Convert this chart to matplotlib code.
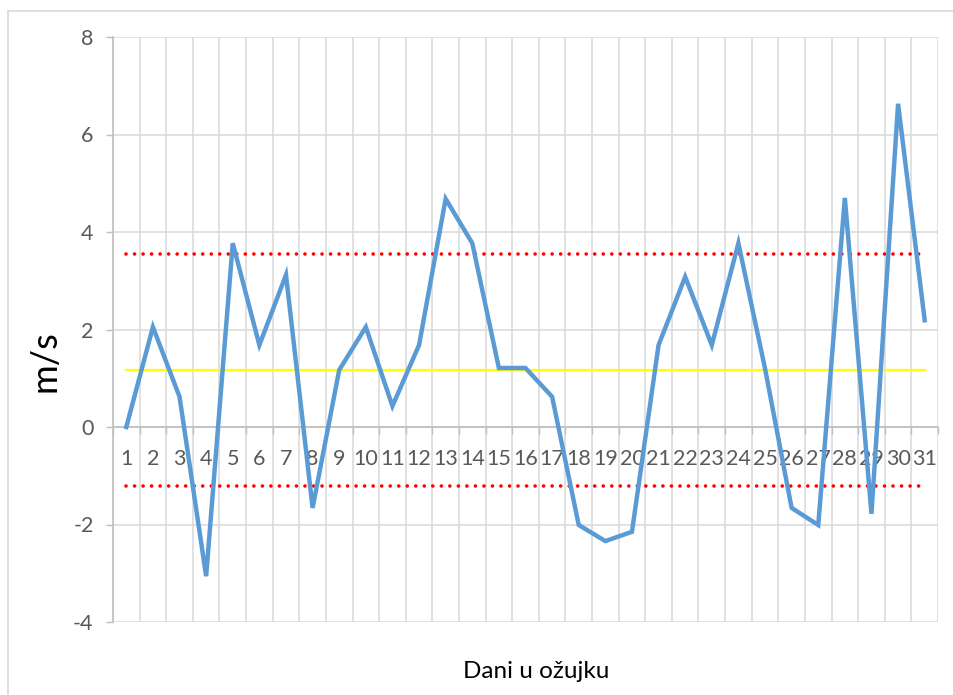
import numpy as np
import matplotlib.pyplot as plt
from matplotlib.lines import Line2D

# daily values (m/s)
days = list(range(1, 32))
values = [0.0, 2.05, 0.62, -3.06, 3.77, 1.68, 3.12, -1.66, 1.17, 2.05,
          0.43, 1.68, 4.68, 3.77, 1.21, 1.21, 0.62, -2.01, -2.34, -2.15,
          1.68, 3.08, 1.68, 3.77, 1.2, -1.66, -2.01, 4.70, -1.78, 6.63, 2.19]
mean_val = 1.17
upper_val = 3.55
lower_val = -1.21
yticks = [-4, -2, 0, 2, 4, 6, 8]

plt.rcParams['font.family'] = ['Lato', 'DejaVu Sans']

fig = plt.figure(figsize=(9.54, 6.95), dpi=100)
W, H = 954, 695
ax = fig.add_axes([113 / W, 1 - 622 / H, (938 - 113) / W, (622 - 37) / H])

grid_c = '#d9d9d9'
axis_c = '#bfbfbf'
text_c = '#595959'

# gridlines
for y in yticks:
    ax.axhline(y, color=grid_c, lw=1.1, zorder=0)
for b in np.arange(0.5, 32, 1.0):
    ax.axvline(b, color=grid_c, lw=1.1, zorder=0)

ax.plot(days, values, color='#5B9BD5', lw=3.2, zorder=4,
        solid_joinstyle='miter')
ax.plot([days[0], days[-1]], [mean_val, mean_val], color='#FFFF00', lw=1.6, zorder=3)
for v in (upper_val, lower_val):
    ax.plot([days[0], days[-1]], [v, v], color='#FF0000', lw=2.6,
            linestyle=(0, (0.01, 2.35)), dash_capstyle='round', zorder=3)

ax.set_xlim(0.5, 31.5)
ax.set_ylim(-4, 8)

for s in ('top', 'right'):
    ax.spines[s].set_visible(False)
ax.spines['left'].set_color(axis_c)
ax.spines['left'].set_linewidth(1.2)
ax.spines['bottom'].set_position(('data', 0))
ax.spines['bottom'].set_color(axis_c)
ax.spines['bottom'].set_linewidth(1.2)

ax.set_yticks(yticks)
ax.set_yticklabels([str(t) for t in yticks])
ax.tick_params(axis='y', colors=axis_c, labelcolor=text_c, labelsize=15.5,
               length=5, width=1.0, pad=9)

ax.set_xticks(days)
ax.set_xticklabels([str(d) for d in days])
ax.set_xticks(np.arange(0.5, 32, 1.0), minor=True)
ax.tick_params(axis='x', which='major', length=0, labelcolor=text_c,
               labelsize=15.5, pad=16)
ax.tick_params(axis='x', which='minor', length=5, color=axis_c, width=1.0)

fig.text(45 / W, 1 - 361 / H, 'm/s', rotation=90, fontsize=26,
         ha='center', va='center', color='black')
fig.text(536 / W, 1 - 671 / H, 'Dani u ožujku', fontsize=17.5,
         ha='center', va='center', color='black')

# chart border
fig.add_artist(Line2D([8.5 / W, 8.5 / W], [0, 1 - 10.5 / H], color=grid_c,
                      lw=1.2, transform=fig.transFigure))
fig.add_artist(Line2D([8.5 / W, 1], [1 - 10.5 / H, 1 - 10.5 / H], color=grid_c,
                      lw=1.2, transform=fig.transFigure))

fig.savefig('out.png', dpi=100)
